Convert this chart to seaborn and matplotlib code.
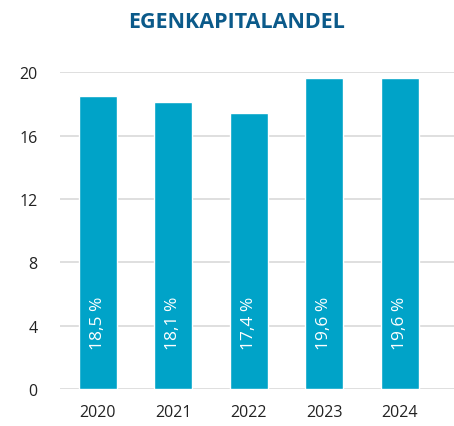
import matplotlib
matplotlib.use('Agg')
import matplotlib.pyplot as plt
import seaborn as sns
import pandas as pd

# data
years  = ['2020', '2021', '2022', '2023', '2024']
values = [18.5, 18.1, 17.4, 19.6, 19.6]
labels = ['18,5 %', '18,1 %', '17,4 %', '19,6 %', '19,6 %']
yticks = [0, 4, 8, 12, 16, 20]

BAR_COLOR   = '#00A3C8'
TITLE_COLOR = '#0B5A8A'
GRID_COLOR  = '#D9D9D9'

sns.set_theme(style='white')
plt.rcParams['font.family'] = ['Open Sans', 'DejaVu Sans']

df = pd.DataFrame({'year': years, 'value': values})

fig = plt.figure(figsize=(4.54, 4.27), dpi=100)
ax = fig.add_axes([0.132, 0.0867, 0.868, 0.742])

sns.barplot(data=df, x='year', y='value', color=BAR_COLOR, width=0.5,
            saturation=1, ax=ax, zorder=3)

for i, lab in enumerate(labels):
    ax.text(i, 4.2, lab, rotation=90, ha='center', va='center',
            color='white', fontsize=12.5, zorder=4)

ax.set_ylim(0, 20)
ax.set_xlim(-0.5, 4.72)
ax.set_yticks(yticks)
ax.yaxis.grid(True, color=GRID_COLOR, lw=1.2, zorder=0)
ax.set_xlabel('')
ax.set_ylabel('')
for s in ax.spines.values():
    s.set_visible(False)
ax.tick_params(axis='y', labelsize=11.5, colors='#222222', pad=16, length=0)
ax.tick_params(axis='x', labelsize=11.5, colors='#222222', pad=11, length=0)

fig.text(0.522, 0.948, 'EGENKAPITALANDEL', ha='center', va='center',
         color=TITLE_COLOR, fontsize=15.5, fontweight='bold')

fig.savefig('out.png', dpi=100)
